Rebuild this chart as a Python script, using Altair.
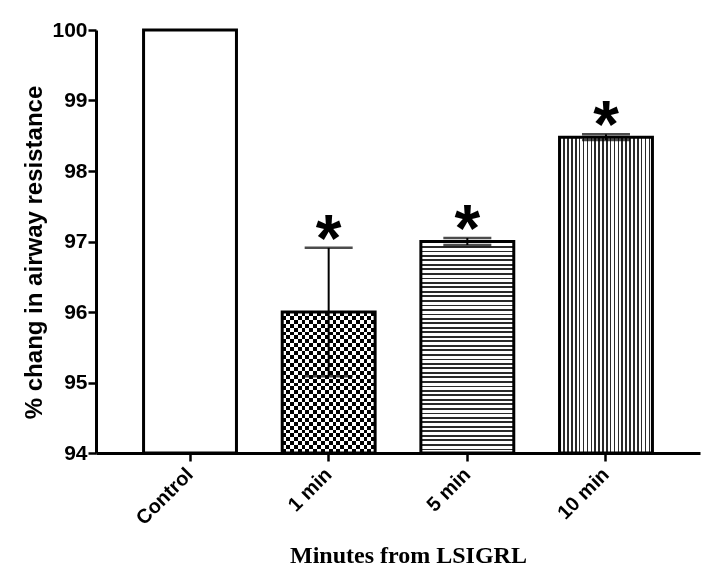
import altair as alt
import pandas as pd

# ---- data ----
categories = ["Control", "1 min", "5 min", "10 min"]
means = [100.0, 96.0, 97.0, 98.48]
errors = [0.0, 0.91, 0.05, 0.04]
significant = [False, True, True, True]

df = pd.DataFrame({
    "cat": categories,
    "mean": means,
    "lo": [m - e for m, e in zip(means, errors)],
    "hi": [m + e for m, e in zip(means, errors)],
    "base": [94.0] * len(categories),
    "star": ["*" if s else "" for s in significant],
})

SANS = "Liberation Sans"
SERIF = "Liberation Serif"


def stripes(n, frac, horizontal, dark="black", light="white"):
    stops = []
    for k in range(n):
        a = k / n
        b = (k + frac) / n
        c = (k + 1) / n
        stops += [
            alt.GradientStop(color=dark, offset=a),
            alt.GradientStop(color=dark, offset=b),
            alt.GradientStop(color=light, offset=b),
            alt.GradientStop(color=light, offset=c),
        ]
    if horizontal:
        return alt.Gradient(gradient="linear", stops=stops, x1=0, x2=0, y1=0, y2=1)
    return alt.Gradient(gradient="linear", stops=stops, x1=0, x2=1, y1=0, y2=0)


xaxis = alt.Axis(
    title="Minutes from LSIGRL",
    labelAngle=-45,
    labelAlign="right",
    labelBaseline="middle",
    labelFont=SANS,
    labelFontWeight="bold",
    labelFontSize=20,
    labelColor="black",
    labelPadding=10,
    tickSize=8,
    tickWidth=2.5,
    tickColor="black",
    domainColor="black",
    domainWidth=3,
    titleFont=SERIF,
    titleFontWeight="bold",
    titleFontSize=24,
    titleColor="black",
    titleX=312,
    titleY=102,
    titleBaseline="middle",
    titleAlign="center",
)

yaxis = alt.Axis(
    title="% chang in airway resistance",
    values=[94, 95, 96, 97, 98, 99, 100],
    format="d",
    grid=False,
    labelFont=SANS,
    labelFontWeight="bold",
    labelFontSize=21,
    labelColor="black",
    labelPadding=1,
    tickSize=8,
    tickWidth=2.5,
    tickColor="black",
    domainColor="black",
    domainWidth=3,
    titleFont=SANS,
    titleFontWeight="bold",
    titleFontSize=24,
    titleColor="black",
    titleX=-62,
    titleY=222,
    titleBaseline="middle",
    titleAlign="center",
)

xenc = alt.X("cat:N", sort=categories,
             scale=alt.Scale(paddingInner=0.33, paddingOuter=0.343), axis=xaxis)
yscale = alt.Scale(domain=[94, 100], zero=False, nice=False)

base = alt.Chart(df).encode(x=xenc)

bar_enc = dict(y=alt.Y("mean:Q", scale=yscale, axis=yaxis), y2="base:Q")

control = base.transform_filter(alt.datum.cat == "Control").mark_bar(
    fill="white", strokeWidth=0).encode(**bar_enc)

one_v = base.transform_filter(alt.datum.cat == "1 min").mark_bar(
    fill=stripes(12, 0.5, False), strokeWidth=0).encode(**bar_enc)
one_h = base.transform_filter(alt.datum.cat == "1 min").mark_bar(
    fill=stripes(18, 0.5, True, dark="white", light="black"),
    strokeWidth=0, blend="difference").encode(**bar_enc)

five = base.transform_filter(alt.datum.cat == "5 min").mark_bar(
    fill=stripes(47, 0.36, True, dark="#2a2a2a"), strokeWidth=0).encode(**bar_enc)

ten = base.transform_filter(alt.datum.cat == "10 min").mark_bar(
    fill=stripes(24, 0.4, False, dark="#2a2a2a"), strokeWidth=0).encode(**bar_enc)

outline = base.mark_bar(fillOpacity=0, stroke="black", strokeWidth=3).encode(**bar_enc)

sig = base.transform_filter(alt.datum.star == "*")

err_rule = sig.mark_rule(color="black", strokeWidth=2).encode(
    y=alt.Y("lo:Q", scale=yscale, axis=yaxis), y2="hi:Q")
cap_hi = sig.mark_tick(color="black", size=48, thickness=2.5).encode(
    y=alt.Y("hi:Q", scale=yscale, axis=yaxis))
cap_lo = sig.mark_tick(color="black", size=48, thickness=2.5).encode(
    y=alt.Y("lo:Q", scale=yscale, axis=yaxis))

stars = sig.mark_text(font=SANS, fontWeight="bold", fontSize=66,
                      baseline="alphabetic", dy=13, color="black").encode(
    y=alt.Y("hi:Q", scale=yscale, axis=yaxis), text="star:N")

chart = alt.layer(
    control, one_v, one_h, five, ten, outline, err_rule, cap_hi, cap_lo, stars
).properties(
    width=604,
    height=423,
    autosize=alt.AutoSizeParams(type="none"),
    padding={"left": 88, "top": 22, "right": 4, "bottom": 125},
    background="white",
).configure_view(stroke=None)

chart.save("out.html", embed_options={"renderer": "svg", "actions": False})
